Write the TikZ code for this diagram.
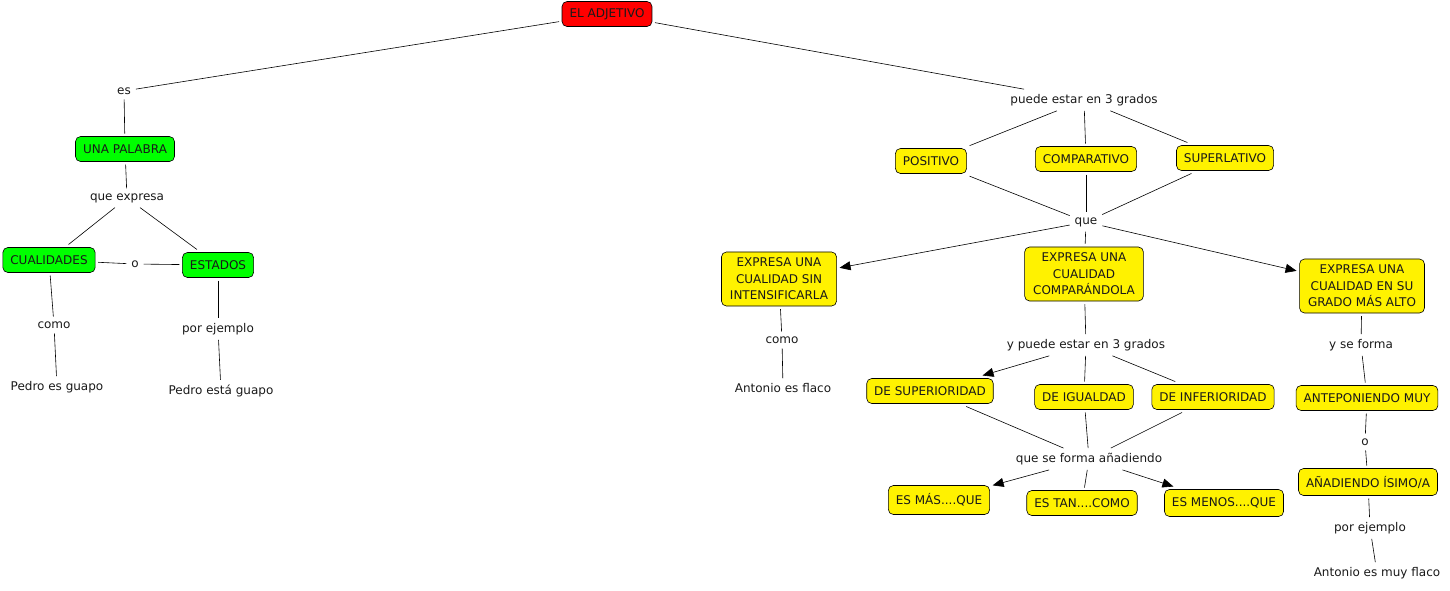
\documentclass[tikz,border=0pt]{standalone}
\usepackage{fontspec}
\setmainfont{DejaVu Sans}
\usetikzlibrary{arrows.meta}
\begin{document}
\begin{tikzpicture}[x=1pt,y=-1pt,
  box/.style={draw=black, rounded corners=5pt, inner xsep=7.5pt, inner ysep=4pt, minimum height=25pt, align=center, font=\fontsize{12}{16.5}\selectfont, outer sep=3pt, line width=0.6pt, text=black!90},
  redbox/.style={box, fill=red},
  greenbox/.style={box, fill=green},
  yellowbox/.style={box, fill=yellow},
  tallbox/.style={yellowbox, inner ysep=6pt, inner xsep=8.5pt},
  lbl/.style={font=\fontsize{12}{14}\selectfont, inner sep=2pt, outer sep=3pt, text=black!90},
  link/.style={draw=black, line width=0.6pt},
  arr/.style={link, -{Triangle[length=11pt,width=9pt]}}]
\useasboundingbox (0,0) rectangle (1450,590);

% left
\node[redbox] (adj) at (607,14) {EL ADJETIVO};
\node[lbl] (es) at (124,91) {es};
\node[greenbox] (pal) at (125,149) {UNA PALABRA};
\node[lbl] (qexp) at (127,198) {que expresa};
\node[greenbox] (cual) at (49,260) {CUALIDADES};
\node[lbl] (o1) at (135,264) {o};
\node[greenbox] (est) at (218,265) {ESTADOS};
\node[lbl] (como1) at (54,325) {como};
\node[lbl] (pg) at (57,387) {Pedro es guapo};
\node[lbl] (pe1) at (218,329) {por ejemplo};
\node[lbl] (peg) at (221,391) {Pedro está guapo};

% right
\node[lbl] (p3) at (1084,100) {puede estar en 3 grados};
\node[yellowbox] (pos) at (931,161) {POSITIVO};
\node[yellowbox] (comp) at (1086,159) {COMPARATIVO};
\node[yellowbox] (sup) at (1225,158) {SUPERLATIVO};
\node[lbl] (que) at (1086,222) {que};
\node[tallbox] (sin) at (779,279) {EXPRESA UNA\\CUALIDAD SIN\\INTENSIFICARLA};
\node[tallbox] (cmpd) at (1084,274) {EXPRESA UNA\\CUALIDAD\\COMPARÁNDOLA};
\node[tallbox] (alto) at (1362,286) {EXPRESA UNA\\CUALIDAD EN SU\\GRADO MÁS ALTO};
\node[lbl] (como2) at (782,340) {como};
\node[lbl] (af) at (783,388) {Antonio es flaco};
\node[lbl] (yp3) at (1086,345) {y puede estar en 3 grados};
\node[yellowbox] (dsup) at (930,391) {DE SUPERIORIDAD};
\node[yellowbox] (digu) at (1084,397) {DE IGUALDAD};
\node[yellowbox] (dinf) at (1213,397) {DE INFERIORIDAD};
\node[lbl] (qsf) at (1089,459) {que se forma añadiendo};
\node[yellowbox, minimum height=29pt] (mas) at (939,500) {ES MÁS....QUE};
\node[yellowbox] (tan) at (1082,503) {ES TAN....COMO};
\node[yellowbox, minimum height=27pt] (men) at (1224,503) {ES MENOS....QUE};
\node[lbl] (ysf) at (1361,345) {y se forma};
\node[yellowbox] (ant) at (1367,398) {ANTEPONIENDO MUY};
\node[lbl] (o2) at (1365,442) {o};
\node[yellowbox, minimum height=27pt] (isi) at (1368,482) {AÑADIENDO ÍSIMO/A};
\node[lbl] (pe2) at (1370,528) {por ejemplo};
\node[lbl] (amf) at (1377,573) {Antonio es muy flaco};

% left links
\draw[link] (adj) -- (es);
\draw[link] (es) -- (pal);
\draw[link] (pal) -- (qexp);
\draw[link] (qexp) -- (cual);
\draw[link] (qexp) -- (est);
\draw[link] (cual) -- (o1);
\draw[link] (o1) -- (est);
\draw[link] (cual) -- (como1);
\draw[link] (como1) -- (pg);
\draw[link] (est) -- (pe1);
\draw[link] (pe1) -- (peg);

% right links
\draw[link] (adj) -- (p3);
\draw[link] (p3) -- (pos);
\draw[link] (p3) -- (comp);
\draw[link] (p3) -- (sup);
\draw[link] (pos) -- (que);
\draw[link] (comp) -- (que);
\draw[link] (sup) -- (que);
\draw[arr] (que) -- (sin);
\draw[link] (que) -- (cmpd);
\draw[arr] (que) -- (alto);
\draw[link] (sin) -- (como2);
\draw[link] (como2) -- (af);
\draw[link] (cmpd) -- (yp3);
\draw[arr] (yp3) -- (dsup);
\draw[link] (yp3) -- (digu);
\draw[link] (yp3) -- (dinf);
\draw[link] (dsup) -- (qsf);
\draw[link] (digu) -- (qsf);
\draw[link] (dinf) -- (qsf);
\draw[arr] (qsf) -- (mas);
\draw[link] (qsf) -- (tan);
\draw[arr] (qsf) -- (men);
\draw[link] (alto) -- (ysf);
\draw[link] (ysf) -- (ant);
\draw[link] (ant) -- (o2);
\draw[link] (o2) -- (isi);
\draw[link] (isi) -- (pe2);
\draw[link] (pe2) -- (amf);
\end{tikzpicture}
\end{document}
